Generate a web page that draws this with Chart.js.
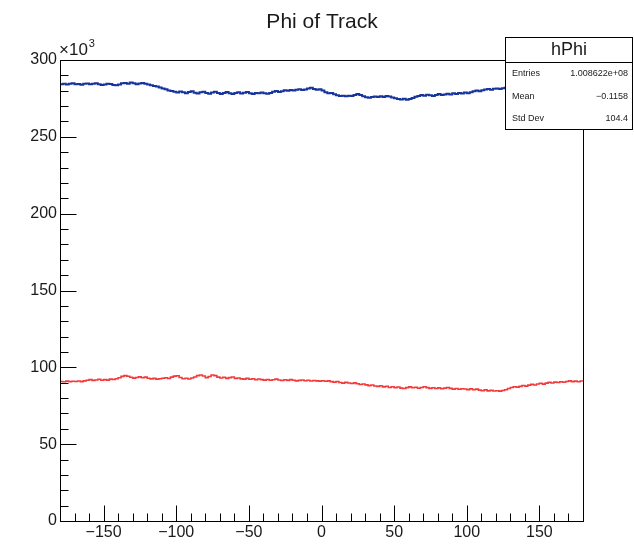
<!DOCTYPE html>
<html>
<head>
<meta charset="utf-8">
<script src="https://cdn.jsdelivr.net/npm/chart.js@4/dist/chart.umd.min.js"></script>
<style>
  html, body { margin: 0; padding: 0; background: #fff; }
  #c { display: block; }
</style>
</head>
<body>
<canvas id="c" width="634" height="545"></canvas>
<script>
// Track azimuth histogram, 180 bins over [-180, 180] degrees, counts in units of 10^3
const phiMin = -180;
const phiMax = 180;

const blueCounts = [
  284.3, 284.6, 284.1, 284.5, 284.8, 284.2, 284.4, 283.9, 284.6, 284.7,
  284.2, 284.5, 284.9, 284.3, 283.8, 284.1, 284.6, 284.4, 283.7, 283.5,
  284.0, 284.8, 285.1, 284.6, 285.3, 284.9, 284.2, 284.7, 285.0, 284.5,
  284.1, 283.6, 283.0, 282.7, 282.1, 281.4, 281.0, 280.2, 279.8, 279.3,
  278.9, 279.5, 279.0, 278.4, 279.1, 279.6, 278.7, 278.2, 279.0, 279.4,
  278.6, 278.0, 278.8, 279.3, 278.5, 277.9, 278.6, 279.1, 278.3, 277.8,
  278.5, 279.0, 278.2, 278.7, 279.2, 278.4, 277.9, 278.6, 278.3, 278.9,
  278.4, 278.0, 278.6, 279.4, 279.8, 279.2, 279.6, 280.3, 280.0, 280.5,
  280.2, 280.6, 281.0, 280.4, 280.8, 281.5, 281.9, 281.2, 280.7, 280.9,
  280.1, 279.0, 278.4, 278.6, 277.7, 277.0, 276.6, 276.8, 276.4, 276.7,
  276.5, 277.3, 277.9, 277.2, 276.4, 275.8, 275.4, 275.9, 276.3, 276.0,
  276.4, 275.9, 276.5, 276.2, 275.6, 275.1, 274.6, 274.3, 274.8, 274.2,
  274.7, 275.3, 276.1, 276.6, 277.2, 276.8, 277.4, 277.0, 276.5, 277.3,
  277.8, 277.2, 277.6, 278.1, 277.5, 278.4, 277.9, 278.5, 278.2, 278.8,
  278.3, 279.0, 279.6, 280.1, 279.7, 280.3, 280.8, 281.2, 280.6, 281.3,
  281.5, 281.1, 281.6, 281.9, 281.4, 281.7, 281.2, 281.8, 281.5, 281.9,
  281.6, 282.0, 281.7, 281.4, 281.9, 282.2, 281.8, 281.5, 282.1, 281.7,
  281.9, 282.3, 281.8, 282.0, 282.4, 281.9, 282.2, 281.7, 282.1, 282.0
];

const redCounts = [
  90.8, 90.6, 91.0, 90.7, 90.9, 90.8, 91.1, 90.7, 91.2, 91.6,
  92.0, 91.5, 91.8, 92.2, 91.6, 92.0, 91.7, 92.3, 92.1, 92.6,
  93.2, 94.1, 94.6, 94.2, 93.5, 93.0, 93.4, 93.8, 93.2, 93.6,
  92.9, 92.5, 92.8, 92.3, 92.6, 92.9, 93.2, 92.7, 93.6, 94.3,
  94.5, 93.4, 92.6, 92.9, 92.4, 93.1, 93.7, 94.6, 95.0, 94.4,
  93.3, 94.0, 95.0, 94.6, 93.6, 93.1, 93.5, 92.8, 93.3, 93.7,
  92.8, 93.1, 92.5, 92.3, 92.8, 92.2, 92.6, 91.9, 92.4, 92.0,
  91.7, 92.1, 91.6, 91.9, 92.3, 91.8, 91.4, 91.9, 91.5, 92.0,
  91.6, 91.2, 91.5, 91.8, 91.3, 91.6, 91.1, 91.4, 91.2, 91.0,
  91.3, 90.9, 91.2, 90.7, 90.4, 90.8, 90.1, 89.7, 90.2, 89.8,
  89.5, 89.9, 89.3, 88.8, 89.2, 88.6, 88.1, 88.5, 87.9, 87.6,
  88.0, 87.3, 87.7, 86.9, 87.4, 86.8, 87.2, 86.5, 86.2, 86.8,
  87.3, 86.7, 87.0, 86.4, 86.9, 87.4, 86.8, 86.3, 86.7, 86.2,
  86.6, 86.1, 86.5, 86.9, 86.3, 85.8, 86.2, 85.7, 86.1, 85.9,
  85.5, 86.0, 85.4, 85.8, 85.2, 84.8, 85.3, 84.7, 85.0, 84.6,
  84.8, 84.5, 84.9, 85.4, 86.2, 86.9, 87.4, 87.1, 87.6, 88.2,
  87.8, 88.4, 88.9, 88.5, 89.2, 89.6, 89.1, 89.7, 90.2, 89.8,
  90.4, 90.1, 90.6, 90.3, 90.8, 91.2, 90.7, 91.0, 90.6, 91.1
];

const xTickValues = [-150, -100, -50, 0, 50, 100, 150];
const yTickValues = [0, 50, 100, 150, 200, 250, 300];

const histTitle = 'Phi of Track';
const statsName = 'hPhi';
const statsRows = [
  ['Entries', '1.008622e+08'],
  ['Mean', '\u22120.1158'],
  ['Std Dev', '104.4']
];

const FONT = '"Liberation Sans", Arial, Helvetica, sans-serif';
const INK = '#1a1a1a';

// Turn bin contents into step-outline points (one point per low edge plus the upper edge)
function histOutline(counts) {
  const w = (phiMax - phiMin) / counts.length;
  const pts = counts.map((c, i) => ({ x: phiMin + i * w, y: c }));
  pts.push({ x: phiMax, y: counts[counts.length - 1] });
  return pts;
}

const fmt = v => (v < 0 ? '\u2212' + Math.abs(v) : String(v));

// Frame, inward ticks, exponent label, title and statistics box
const rootDecor = {
  id: 'rootDecor',
  afterDatasetsDraw(chart) {
    const ctx = chart.ctx;
    const a = chart.chartArea;
    const xs = chart.scales.x, ys = chart.scales.y;
    const L = Math.round(a.left) + 0.5, R = Math.round(a.right) + 0.5;
    const T = Math.round(a.top) + 0.5, B = Math.round(a.bottom) + 0.5;
    ctx.save();
    ctx.strokeStyle = '#000';
    ctx.lineWidth = 1;
    ctx.strokeRect(L, T, R - L, B - T);

    ctx.beginPath();
    for (let v = -170; v <= 170; v += 10) {
      const px = Math.round(xs.getPixelForValue(v)) + 0.5;
      const len = (v % 50 === 0) ? 16 : 8;
      ctx.moveTo(px, B);
      ctx.lineTo(px, B - len);
    }
    for (let v = 10; v < 300; v += 10) {
      const py = Math.round(ys.getPixelForValue(v)) + 0.5;
      const len = (v % 50 === 0) ? 16 : 8;
      ctx.moveTo(L, py);
      ctx.lineTo(L + len, py);
    }
    ctx.stroke();

    // x10^3 exponent marker
    ctx.fillStyle = INK;
    ctx.textBaseline = 'alphabetic';
    ctx.textAlign = 'left';
    ctx.font = '17px ' + FONT;
    ctx.fillText('\u00d710', 59, 55);
    const w10 = ctx.measureText('\u00d710').width;
    ctx.font = '11px ' + FONT;
    ctx.fillText('3', 59 + w10 + 1, 47);

    // title
    ctx.font = '21px ' + FONT;
    ctx.textAlign = 'center';
    ctx.fillText(histTitle, 322, 28);

    // statistics box
    const bx = 505.5, by = 37.5, bw = 127, bh = 92, rowTop = 62.5;
    ctx.fillStyle = '#fff';
    ctx.fillRect(bx, by, bw, bh);
    ctx.strokeStyle = '#000';
    ctx.strokeRect(bx, by, bw, bh);
    ctx.beginPath();
    ctx.moveTo(bx, rowTop);
    ctx.lineTo(bx + bw, rowTop);
    ctx.stroke();
    ctx.fillStyle = INK;
    ctx.font = '18px ' + FONT;
    ctx.textAlign = 'center';
    ctx.textBaseline = 'middle';
    ctx.fillText(statsName, bx + bw / 2, 50);
    ctx.font = '9px ' + FONT;
    const rowY = [74, 97, 119];
    statsRows.forEach((r, i) => {
      ctx.textAlign = 'left';
      ctx.fillText(r[0], 512, rowY[i]);
      ctx.textAlign = 'right';
      ctx.fillText(r[1], 628, rowY[i]);
    });
    ctx.restore();
  }
};

new Chart(document.getElementById('c'), {
  type: 'line',
  data: {
    datasets: [
      {
        label: 'hPhi',
        data: histOutline(blueCounts),
        borderColor: '#16349c',
        borderWidth: 2,
        stepped: 'before',
        pointRadius: 0,
        fill: false
      },
      {
        label: 'hPhi selected',
        data: histOutline(redCounts),
        borderColor: '#f23a3a',
        borderWidth: 1.6,
        stepped: 'before',
        pointRadius: 0,
        fill: false
      }
    ]
  },
  options: {
    responsive: false,
    animation: false,
    devicePixelRatio: 1,
    layout: { padding: { top: 60, right: 51, bottom: 0, left: 0 } },
    plugins: {
      legend: { display: false },
      tooltip: { enabled: false },
      title: { display: false }
    },
    scales: {
      x: {
        type: 'linear',
        min: phiMin,
        max: phiMax,
        afterBuildTicks: s => { s.ticks = xTickValues.map(v => ({ value: v })); },
        afterFit: s => { s.height = 24; },
        grid: { display: false, drawTicks: false },
        border: { display: false },
        ticks: {
          padding: 2,
          maxRotation: 0,
          color: INK,
          font: { family: FONT, size: 16 },
          callback: v => fmt(v)
        }
      },
      y: {
        type: 'linear',
        min: 0,
        max: 300,
        afterBuildTicks: s => { s.ticks = yTickValues.map(v => ({ value: v })); },
        afterFit: s => { s.width = 60; },
        grid: { display: false, drawTicks: false },
        border: { display: false },
        ticks: {
          padding: 3,
          color: INK,
          font: { family: FONT, size: 16 },
          callback: v => String(v)
        }
      }
    }
  },
  plugins: [rootDecor]
});
</script>
</body>
</html>
